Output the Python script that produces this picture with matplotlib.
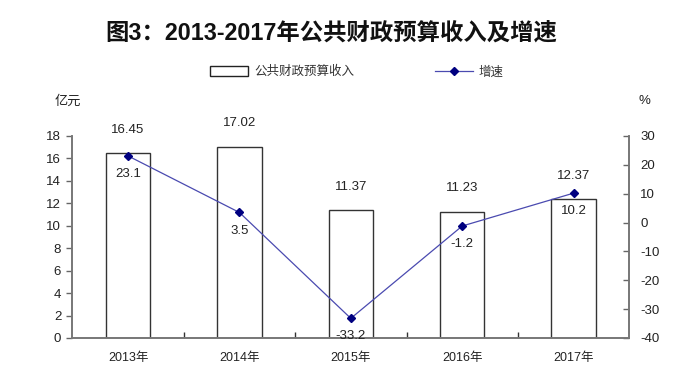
import matplotlib
matplotlib.use("Agg")
import matplotlib.pyplot as plt
from matplotlib.patches import Patch
from matplotlib.lines import Line2D
from matplotlib.ticker import MultipleLocator, FixedLocator

plt.rcParams['font.family'] = ['Liberation Sans', 'Noto Sans CJK SC', 'DejaVu Sans']
plt.rcParams['axes.unicode_minus'] = False

years = ['2013年', '2014年', '2015年', '2016年', '2017年']
revenue = [16.45, 17.02, 11.37, 11.23, 12.37]
growth = [23.1, 3.5, -33.2, -1.2, 10.2]
revenue_labels = ['16.45', '17.02', '11.37', '11.23', '12.37']
growth_labels = ['23.1', '3.5', '-33.2', '-1.2', '10.2']

fig = plt.figure(figsize=(7, 3.86), dpi=100)
ax = fig.add_axes([0.1033, 0.1244, 0.7957, 0.5233])
ax2 = ax.twinx()

x = [i + 0.5 for i in range(len(years))]
ax.bar(x, revenue, width=0.4, color='white', edgecolor='#333333', linewidth=1.0, zorder=2)
ax.set_xlim(0, 5)
ax.set_ylim(0, 18)
ax.yaxis.set_major_locator(MultipleLocator(2))
ax.set_xticks(x)
ax.set_xticklabels(years, fontsize=9, color='#222222')
ax.tick_params(axis='x', which='major', length=0, pad=10)
ax.xaxis.set_minor_locator(FixedLocator([1, 2, 3, 4]))
ax.tick_params(axis='x', which='minor', direction='in', length=4, width=1, color='#333333')
ax.tick_params(axis='y', direction='out', length=4, width=1, color='#666666', labelsize=9.5, labelcolor='#222222', pad=4)

for xi, v, lab in zip(x, revenue, revenue_labels):
    ax.annotate(lab, (xi, v), xytext=(0, 17), textcoords='offset points', ha='center', va='center',
                fontsize=9.5, color='#222222')

ax2.plot(x, growth, color='#4a4ab0', linewidth=0.9, marker='D', markersize=4.5,
         markerfacecolor='#000080', markeredgecolor='#000080', zorder=3)
ax2.set_ylim(-40, 30)
ax2.yaxis.set_major_locator(MultipleLocator(10))
ax2.tick_params(axis='y', direction='in', length=4, width=1, color='#666666', labelsize=9.5, labelcolor='#222222', pad=8)

for xi, v, lab in zip(x, growth, growth_labels):
    ax2.annotate(lab, (xi, v), xytext=(0, -13), textcoords='offset points', ha='center', va='center',
                 fontsize=9.5, color='#222222')

for a in (ax, ax2):
    a.spines['top'].set_visible(False)
    for s in ('left', 'right', 'bottom'):
        a.spines[s].set_color('#777777')
        a.spines[s].set_linewidth(1.2)

fig.text(0.473, 0.915, '图3：2013-2017年公共财政预算收入及增速', ha='center', va='center',
         fontsize=16.8, fontweight='bold', color='#111111')
fig.text(0.097, 0.738, '亿元', ha='center', va='center', fontsize=9.5, color='#222222')
fig.text(0.921, 0.738, '%', ha='center', va='center', fontsize=9.5, color='#222222')

handles = [Patch(facecolor='white', edgecolor='#222222', linewidth=1.0),
           Line2D([0], [0], color='#4a4ab0', linewidth=0.9, marker='D', markersize=4,
                  markerfacecolor='#000080', markeredgecolor='#000080')]
fig.legend(handles, ['公共财政预算收入', '增速'], loc='center', bbox_to_anchor=(0.51, 0.813),
           ncol=2, frameon=False, fontsize=9, columnspacing=6.5, handlelength=3.0,
           handleheight=0.8, handletextpad=0.5, labelcolor='#333333')

fig.savefig('out.png', dpi=100, facecolor='white')
